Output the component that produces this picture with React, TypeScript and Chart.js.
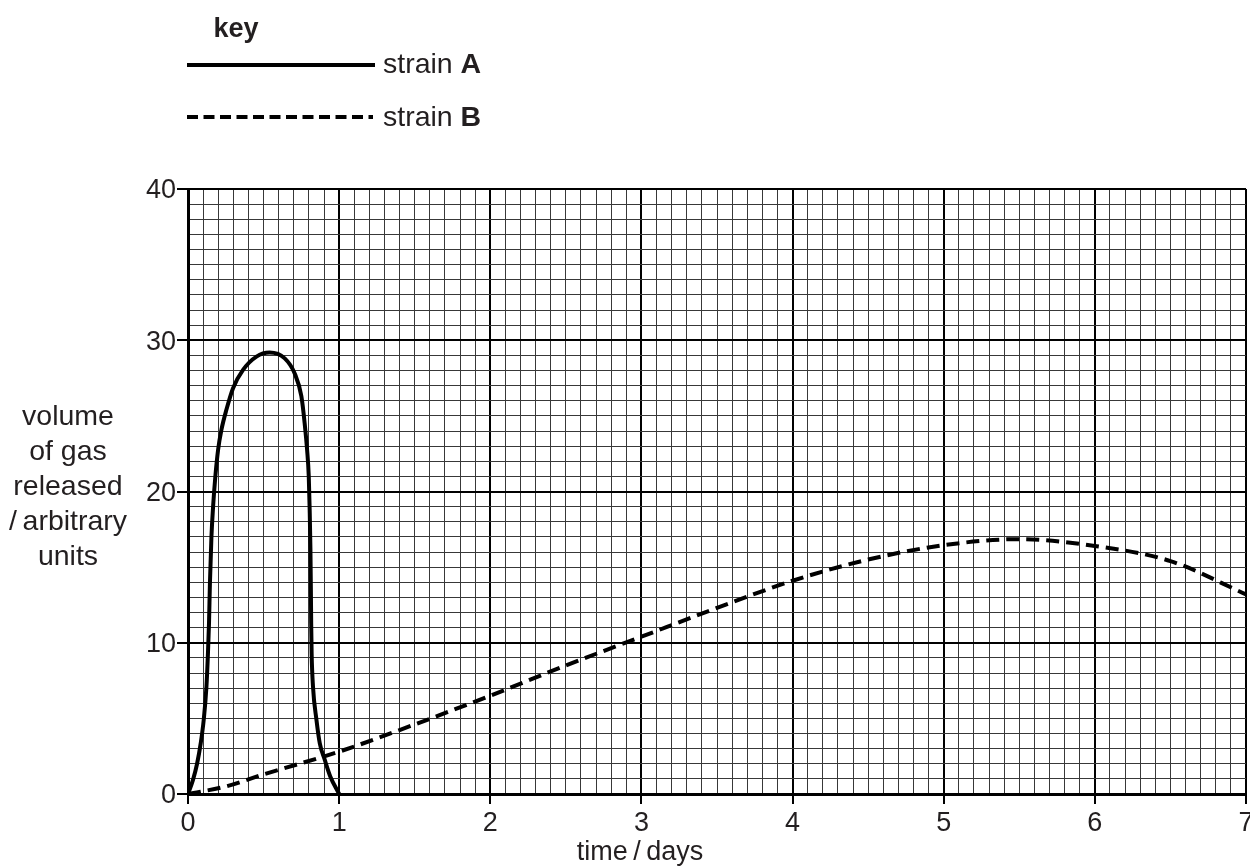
import React, { useEffect, useRef } from "react";
import { Chart, registerables } from "chart.js";

Chart.register(...registerables);

const xMin = 0;
const xMax = 7;
const yMin = 0;
const yMax = 40;
const xTickLabels = ["0", "1", "2", "3", "4", "5", "6", "7"];
const yTickLabels = ["0", "10", "20", "30", "40"];

const strainADays = [
  0, 0.033, 0.06, 0.084, 0.104, 0.122, 0.132, 0.139, 0.145, 0.155, 0.166, 0.181,
  0.199, 0.221, 0.254, 0.298, 0.364, 0.453, 0.54, 0.64, 0.706, 0.75, 0.772, 0.788,
  0.799, 0.805, 0.81, 0.813, 0.815, 0.818, 0.827, 0.85, 0.872, 0.905, 0.942, 1.0,
];
const strainAVolume = [
  0, 0.93, 2.0, 3.35, 4.9, 7.1, 9.3, 11.3, 13.9, 17.0, 19.0, 21.0,
  22.75, 24.07, 25.4, 26.83, 28.04, 28.92, 29.19, 28.8, 27.8, 26.3, 24.5, 22.75,
  21.0, 18.8, 16.2, 13.5, 11.3, 9.3, 7.1, 4.9, 3.35, 2.25, 1.14, 0,
];

const strainBDays = [0, 0.25, 0.5, 1, 1.5, 2, 2.5, 3, 3.5, 4, 4.5, 5, 5.5, 6, 6.5, 7];
const strainBVolume = [0, 0.5, 1.3, 2.8, 4.6, 6.5, 8.5, 10.4, 12.3, 14.1, 15.5, 16.45, 16.85, 16.4, 15.4, 13.2];

const yTitleLines = ["volume", "of gas", "released", "/\u2009arbitrary", "units"];
const xTitle = "time\u2009/\u2009days";
const keyTitle = "key";
const seriesNames = ["strain ", "strain "];
const seriesLetters = ["A", "B"];

const FONT = '"Liberation Sans", Arial, Helvetica, sans-serif';
const TEXT = "#231f20";

const isMajorX = (v: number) => Math.abs(v - Math.round(v)) < 1e-6;
const isMajorY = (v: number) => Math.abs(v / 10 - Math.round(v / 10)) < 1e-6;

const textPlugin = {
  id: "textPlugin",
  afterDraw(chart: any) {
    const ctx = chart.ctx as CanvasRenderingContext2D;
    ctx.save();
    ctx.fillStyle = TEXT;
    ctx.textBaseline = "alphabetic";
    // key
    ctx.font = `bold 27px ${FONT}`;
    ctx.textAlign = "center";
    ctx.fillText(keyTitle, 236, 37);
    // legend lines
    ctx.strokeStyle = "#000";
    ctx.lineWidth = 4;
    ctx.setLineDash([]);
    ctx.beginPath();
    ctx.moveTo(187, 65);
    ctx.lineTo(375, 65);
    ctx.stroke();
    ctx.setLineDash([11, 5.5]);
    ctx.beginPath();
    ctx.moveTo(187, 117);
    ctx.lineTo(373, 117);
    ctx.stroke();
    ctx.setLineDash([]);
    // legend texts
    const ys = [73, 126];
    for (let i = 0; i < 2; i++) {
      ctx.textAlign = "left";
      ctx.font = `28.5px ${FONT}`;
      ctx.fillText(seriesNames[i], 383, ys[i]);
      const w = ctx.measureText(seriesNames[i]).width;
      ctx.font = `bold 28.5px ${FONT}`;
      ctx.fillText(seriesLetters[i], 383 + w, ys[i]);
    }
    // y title
    ctx.font = `28.5px ${FONT}`;
    ctx.textAlign = "center";
    yTitleLines.forEach((t, i) => ctx.fillText(t, 68, 425 + i * 34.9));
    // x title
    ctx.font = `27px ${FONT}`;
    ctx.fillText(xTitle, 640, 860);
    ctx.restore();
  },
};

export default function App() {
  const ref = useRef<HTMLCanvasElement>(null);
  useEffect(() => {
    document.body.style.margin = "0";
    const canvas = ref.current!;
    const chart = new Chart(canvas, {
      type: "line",
      data: {
        datasets: [
          {
            label: "strain A",
            data: strainADays.map((d, i) => ({ x: d, y: strainAVolume[i] })),
            borderColor: "#000",
            borderWidth: 4,
            pointRadius: 0,
            cubicInterpolationMode: "monotone",
            fill: false,
          },
          {
            label: "strain B",
            data: strainBDays.map((d, i) => ({ x: d, y: strainBVolume[i] })),
            borderColor: "#000",
            borderWidth: 4,
            borderDash: [13, 7],
            pointRadius: 0,
            cubicInterpolationMode: "monotone",
            fill: false,
          },
        ],
      },
      options: {
        responsive: false,
        animation: false,
        layout: { padding: { top: 189, right: 4, left: 0, bottom: 0 } },
        plugins: { legend: { display: false }, tooltip: { enabled: false } },
        scales: {
          x: {
            type: "linear",
            min: xMin,
            max: xMax,
            afterFit: (s: any) => {
              s.height = 72;
              s.paddingLeft = 0;
              s.paddingRight = 0;
            },
            border: { display: true, width: 3, color: "#000" },
            grid: {
              color: (c: any) => (isMajorX(c.tick.value) ? "#000" : "#383838"),
              lineWidth: (c: any) => (isMajorX(c.tick.value) ? 2 : 1),
              tickColor: (c: any) => (isMajorX(c.tick.value) ? "#000" : "rgba(0,0,0,0)"),
              tickWidth: 2,
              tickLength: 10,
            },
            ticks: {
              stepSize: 0.1,
              autoSkip: false,
              maxRotation: 0,
              padding: 3,
              color: TEXT,
              font: { family: FONT, size: 27 },
              callback: (v: any) => (isMajorX(v) ? xTickLabels[Math.round(v)] : ""),
            },
          },
          y: {
            type: "linear",
            min: yMin,
            max: yMax,
            afterFit: (s: any) => {
              s.width = 188;
              s.paddingTop = 0;
              s.paddingBottom = 0;
            },
            border: { display: true, width: 3, color: "#000" },
            grid: {
              color: (c: any) => (isMajorY(c.tick.value) ? "#000" : "#383838"),
              lineWidth: (c: any) => (isMajorY(c.tick.value) ? 2 : 1),
              tickColor: (c: any) => (isMajorY(c.tick.value) ? "#000" : "rgba(0,0,0,0)"),
              tickWidth: 2,
              tickLength: 11,
            },
            ticks: {
              stepSize: 1,
              autoSkip: false,
              padding: 1,
              labelOffset: 2,
              color: TEXT,
              font: { family: FONT, size: 27 },
              callback: (v: any) => (isMajorY(v) ? yTickLabels[Math.round(v / 10)] : ""),
            },
          },
        },
      },
      plugins: [textPlugin],
    });
    return () => chart.destroy();
  }, []);
  return <canvas ref={ref} width={1250} height={866} style={{ display: "block" }} />;
}
